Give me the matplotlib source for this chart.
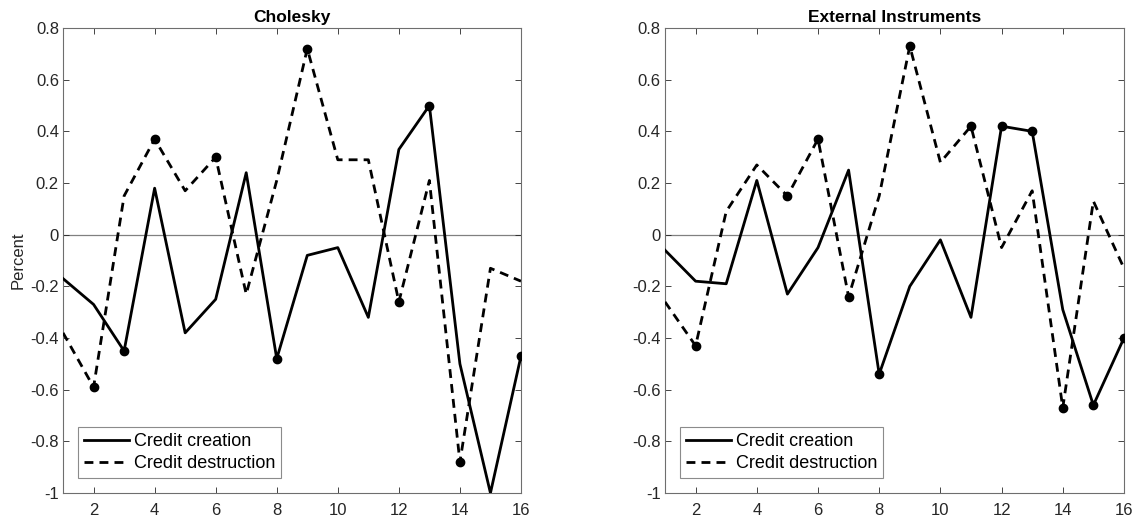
import numpy as np
import matplotlib.pyplot as plt
from matplotlib.ticker import FuncFormatter

plt.rcParams['font.family'] = ['Liberation Sans', 'DejaVu Sans']

# horizon
h = np.arange(1, 17)

# Cholesky identification
chol_creation = [-0.17, -0.27, -0.45, 0.18, -0.38, -0.25, 0.24, -0.48,
                 -0.08, -0.05, -0.32, 0.33, 0.50, -0.50, -1.00, -0.47]
chol_destruction = [-0.38, -0.59, 0.15, 0.37, 0.17, 0.30, -0.23, 0.21,
                    0.72, 0.29, 0.29, -0.26, 0.21, -0.88, -0.13, -0.18]
chol_creation_sig = [3, 8, 13, 16]
chol_destruction_sig = [2, 4, 6, 9, 12, 14]

# external instruments identification
ext_creation = [-0.06, -0.18, -0.19, 0.21, -0.23, -0.05, 0.25, -0.54,
                -0.20, -0.02, -0.32, 0.42, 0.40, -0.29, -0.66, -0.40]
ext_destruction = [-0.26, -0.43, 0.09, 0.27, 0.15, 0.37, -0.24, 0.15,
                   0.73, 0.28, 0.42, -0.05, 0.17, -0.67, 0.13, -0.13]
ext_creation_sig = [8, 12, 13, 15, 16]
ext_destruction_sig = [2, 5, 6, 7, 9, 11, 14]

panels = [
    ('Cholesky', chol_creation, chol_destruction, chol_creation_sig, chol_destruction_sig),
    ('External Instruments', ext_creation, ext_destruction, ext_creation_sig, ext_destruction_sig),
]

fig = plt.figure(figsize=(11.36, 5.21), dpi=100)
positions = [[0.0555, 0.0537, 0.4031, 0.8925], [0.5854, 0.0537, 0.4040, 0.8925]]


def fmt(v, p):
    v = round(v, 1)
    if v == 0:
        return '0'
    return f'{v:g}'


axcol = '#262626'
for pos, (title, cre, des, cre_sig, des_sig) in zip(positions, panels):
    ax = fig.add_axes(pos)
    cre = np.array(cre)
    des = np.array(des)
    ax.axhline(0, color='#808080', lw=0.9, zorder=1)
    ax.plot(h, cre, color='black', lw=2.0, ls='-', label='Credit creation', zorder=3)
    ax.plot(h, des, color='black', lw=2.0, ls=(0, (3.2, 2.2)), label='Credit destruction', zorder=3)
    # filled dots on the significant horizons
    ci = np.array(cre_sig) - 1
    di = np.array(des_sig) - 1
    ax.plot(h[ci], cre[ci], 'o', color='black', ms=6, zorder=4)
    ax.plot(h[di], des[di], 'o', color='black', ms=6, zorder=4)

    ax.set_xlim(1, 16)
    ax.set_ylim(-1, 0.8)
    ax.set_xticks(np.arange(2, 17, 2))
    ax.set_yticks(np.round(np.arange(-1, 0.81, 0.2), 1))
    ax.yaxis.set_major_formatter(FuncFormatter(fmt))
    ax.tick_params(direction='in', top=True, right=True, length=4, width=0.6,
                   color=axcol, labelcolor=axcol, labelsize=12)
    ax.tick_params(axis='x', pad=7)
    ax.tick_params(axis='y', pad=3)
    for s in ax.spines.values():
        s.set_color('#6e6e6e')
        s.set_linewidth(0.8)
    ax.set_title(title, fontsize=12.5, fontweight='bold', pad=4)
    leg = ax.legend(loc='lower left', fontsize=13, frameon=True, fancybox=False,
                    handlelength=2.5, handletextpad=0.28, borderpad=0.3,
                    labelspacing=0.3, borderaxespad=0.85)
    leg.get_frame().set_edgecolor('#6e6e6e')
    leg.get_frame().set_linewidth(0.8)
    if title == 'Cholesky':
        ax.set_ylabel('Percent', fontsize=12, color=axcol, labelpad=3)

fig.savefig('out.png', dpi=100)
